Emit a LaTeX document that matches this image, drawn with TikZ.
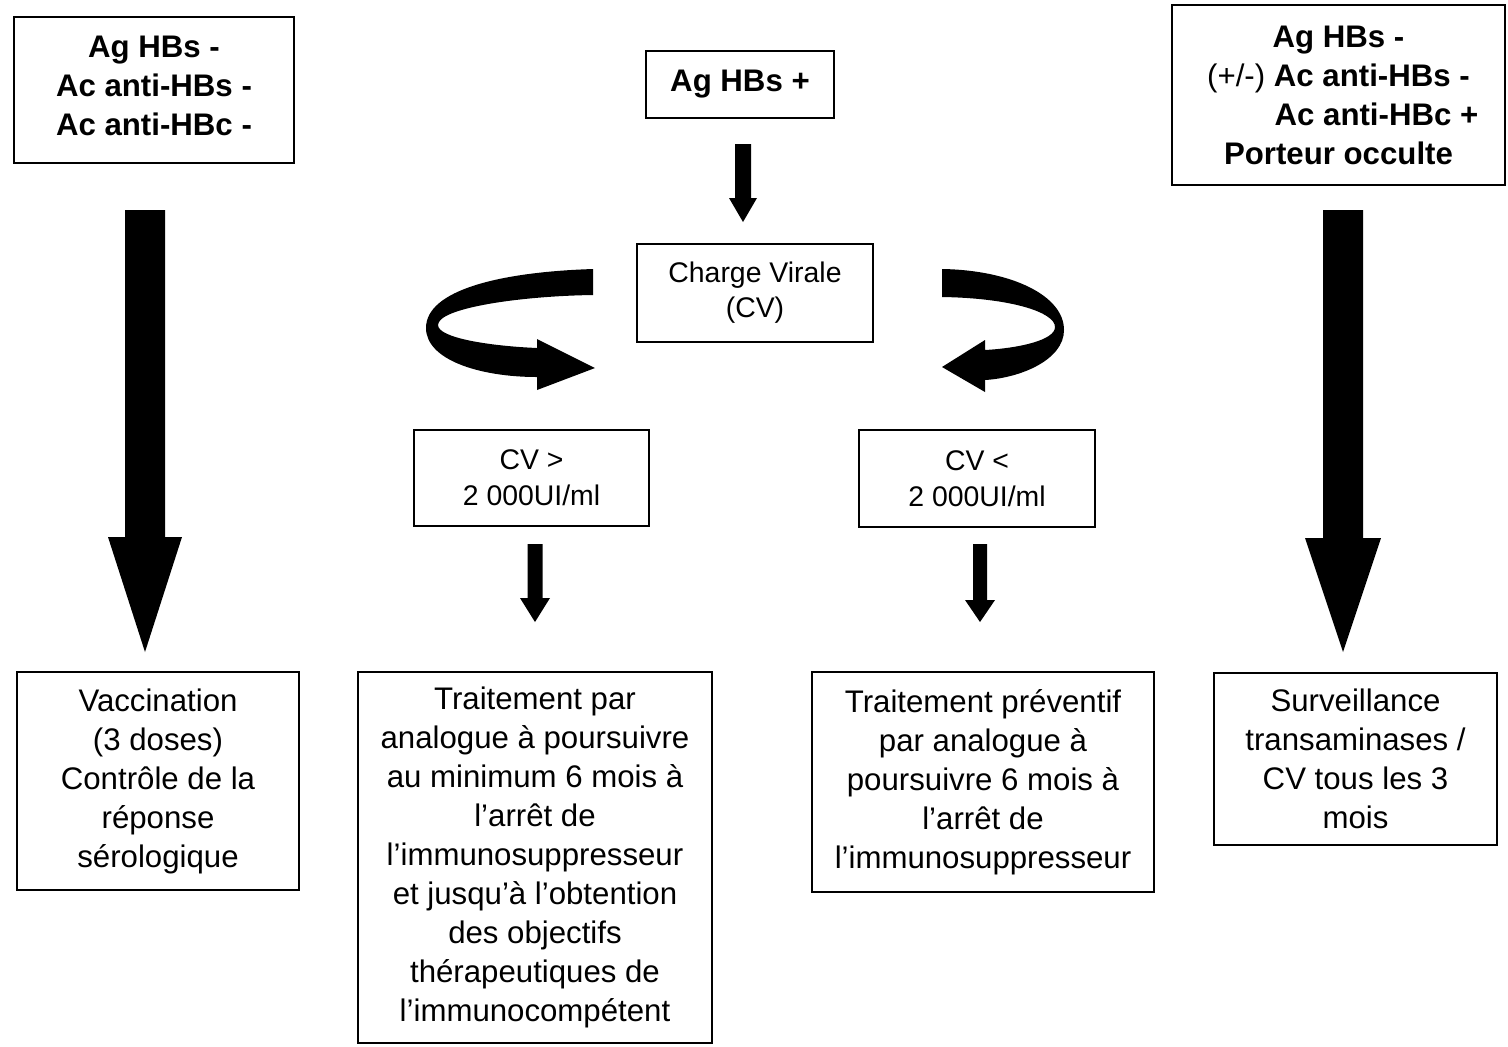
\documentclass[tikz,border=0pt]{standalone}
\usepackage{fontspec}
\setmainfont{Liberation Sans}
\newcommand\blockarr[6]{\fill ({#1-#5},#2) -- ({#1+#5},#2) -- ({#1+#5},#3) -- ({#1+#6},#3) -- (#1,#4) -- ({#1-#6},#3) -- ({#1-#5},#3) -- cycle;}
\begin{document}
\begin{tikzpicture}[x=0.5pt,y=-0.5pt,
  box/.style={draw=black, line width=1pt, rectangle, inner sep=0pt, align=center},
  big/.style={font=\fontsize{15.6}{19.5}\selectfont},
  bigb/.style={font=\fontsize{15.6}{19.5}\selectfont\bfseries},
  small/.style={font=\fontsize{14.2}{17.5}\selectfont}]
\useasboundingbox (0,0) rectangle (1508,1046);

% top boxes
\node[box,bigb,minimum width=140pt,minimum height=73pt] (b1) at (154,90)
  {Ag HBs -\\Ac anti-HBs -\\Ac anti-HBc -\rule[-4pt]{0pt}{4pt}};
\node[box,bigb,minimum width=94pt,minimum height=33.5pt] (b2) at (740,84.5)
  {Ag HBs +};
\node[box,bigb,minimum width=166.5pt,minimum height=90pt] (b3) at (1338.5,95)
  {Ag HBs -\\{\mdseries (+/-)} Ac anti-HBs -\\\hspace*{38pt}Ac anti-HBc +\\Porteur occulte};

% middle boxes
\node[box,small,minimum width=118pt,minimum height=49pt] (cv) at (755,293)
  {Charge Virale\\(CV)};
\node[box,small,minimum width=117.5pt,minimum height=48pt,font=\fontsize{14.2}{18}\selectfont] (cvg) at (531.5,478)
  {CV >\\2 000UI/ml};
\node[box,small,minimum width=118pt,minimum height=48.5pt,font=\fontsize{14.2}{18}\selectfont] (cvl) at (977,478.5)
  {CV <\\2 000UI/ml};

% bottom boxes
\node[box,big,minimum width=141pt,minimum height=109pt] (vac) at (158,781)
  {Vaccination\\(3 doses)\\Contrôle de la\\réponse\\sérologique};
\node[box,big,minimum width=177pt,minimum height=185.5pt] (trt) at (535,857.5)
  {Traitement par\\analogue à poursuivre\\au minimum 6 mois à\\l’arrêt de\\l’immunosuppresseur\\et jusqu’à l’obtention\\des objectifs\\thérapeutiques de\\l’immunocompétent};
\node[box,big,minimum width=171pt,minimum height=110pt] (prev) at (983,782)
  {Traitement préventif\\par analogue à\\poursuivre 6 mois à\\l’arrêt de\\l’immunosuppresseur};
\node[box,big,minimum width=141.5pt,minimum height=86pt] (surv) at (1355.5,759)
  {Surveillance\\transaminases /\\CV tous les 3\\mois};

% straight block arrows
\blockarr{145}{210}{537}{652}{20}{37}
\blockarr{743}{144}{198}{222}{8}{14}
\blockarr{1343}{210}{538}{652}{20}{38}
\blockarr{535}{544}{598}{622}{7.5}{15}
\blockarr{980}{544}{600}{622}{7}{15}

% curved arrows
\fill (593,269) .. controls (500,272) and (426,290) .. (426,328)
  .. controls (426,360) and (480,377) .. (537,377) -- (537,390) -- (595,368)
  -- (537,339) -- (537,348) .. controls (490,346) and (438,338) .. (438,325)
  .. controls (438,308) and (520,296) .. (593,295) -- cycle;
\fill (942,269) .. controls (1010,270) and (1064,295) .. (1064,330)
  .. controls (1064,360) and (1020,378) .. (985,380) -- (985,392) -- (942,367)
  -- (985,340) -- (985,350) .. controls (1020,348) and (1055,340) .. (1055,327)
  .. controls (1055,312) and (1010,298) .. (942,297) -- cycle;
\end{tikzpicture}
\end{document}
